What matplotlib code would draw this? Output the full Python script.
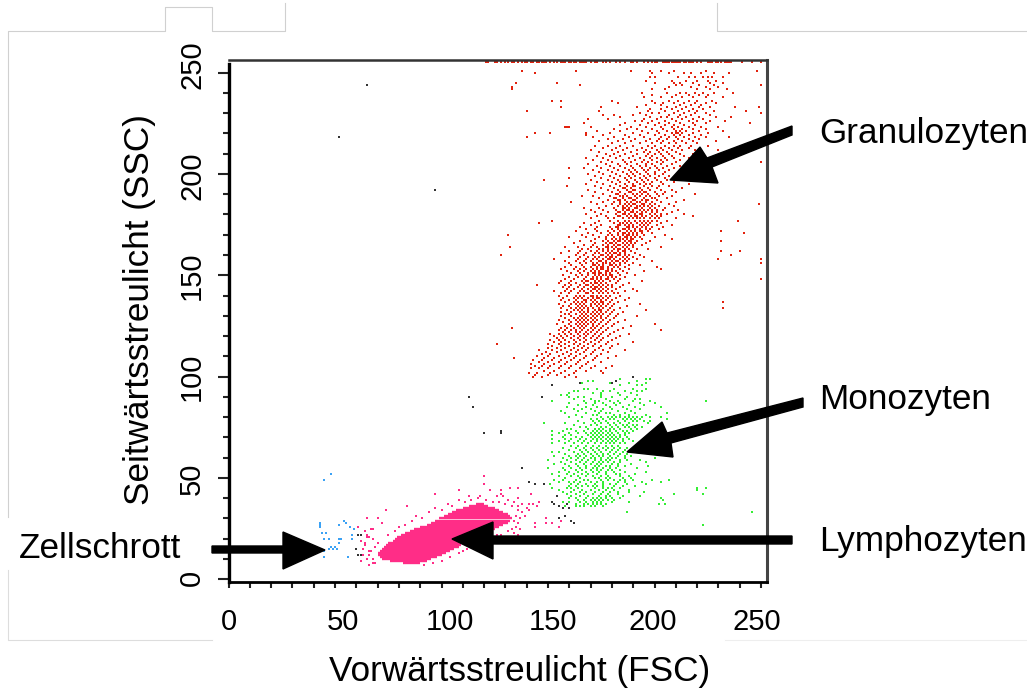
#!/usr/bin/env python3
"""Flow cytometry dot plot, FSC against SSC, with the four labelled cell populations."""

import matplotlib
matplotlib.use("Agg")
import matplotlib.pyplot as plt
from matplotlib.lines import Line2D
from matplotlib.patches import Polygon

W, H = 1027, 689

# Granulozyten: y channel -> x channels
red_rows = {
    255: [121,122,125,126,128,130,131,133,134,136,138,139,140,142,143,145,146,147,148,149,151,153,154,156,157,158,160,161,162,163,165,166,167,168,170,172,173,176,177,179,182,184,186,189,190,192,195,197,199,200,201,204,205,206,207,208,209,210,211,212,214,215,216,217,218,220,222,225,226,227,229,230,231,233,234,235,236,241,246,250],
    251: [138,163,189,198,203,209,224,248],
    250: [144,199,207,214,217,222,228,235],
    248: [198,200,211,216,219,223,225,227,232],
    246: [196,208,215,220,225,229],
    245: [135,154,200,209,212,218,226,232],
    244: [165,210,213,221,228,250],
    243: [133,207,217,224,230],
    242: [133,199,205,220,226,234],
    240: [194,206,212,215,219,223,228,237],
    239: [199,210,216,221,225],
    238: [195,203,208,213,218,224,232],
    236: [152,156,180,199,207,211,216,220,227],
    235: [183,200,204,209,214,219,224,229],
    234: [196,203,212,217,222],
    233: [156,175,192,206,210,215,221,226,238,249],
    232: [198,203,208,213,218,223],
    231: [140,174,197,205,211,216,220,228,243],
    230: [193,199,202,209,214,219,224,250],
    229: [176,181,190,196,207,212,217,226],
    228: [184,198,203,206,211,215,221,229,236],
    227: [169,178,195,201,208,213,218,223],
    226: [191,194,199,205,210,216,220,226,233],
    225: [167,186,197,202,207,212,218,224,245],
    224: [184,193,200,205,209,214,219],
    223: [158,159,160,170,189,196,203,208,211,216,222,230],
    222: [181,187,192,199,204,209,213,218,224],
    221: [173,184,194,201,206,210,212,215,221,232],
    220: [144,151,168,179,190,197,202,208,210,211,213,218,225],
    219: [168,176,186,193,200,205,209,212,216,222],
    218: [140,171,181,188,195,203,207,210,214,219,224,235],
    217: [178,185,191,198,202,206,211,216,221],
    216: [174,183,189,196,201,204,209,213,218,229],
    215: [180,186,193,199,203,207,210,215,220],
    214: [172,178,184,190,197,200,205,209,212,217,225],
    213: [176,182,187,194,199,203,207,211,216],
    212: [170,180,185,192,196,201,204,208,213,219,230],
    211: [174,183,189,195,198,202,206,210,222],
    210: [177,181,186,192,197,200,203,207,212,218],
    209: [173,179,184,190,196,199,204,208,214],
    208: [168,176,182,188,193,198,201,205,209,216,227],
    207: [171,178,185,191,195,199,203,206,212],
    206: [175,180,186,189,194,197,201,204,210,250],
    205: [169,177,183,187,192,196,199,203,208,216],
    204: [173,179,184,189,193,196,200,206,212],
    203: [160,167,175,181,186,190,194,198,201,204,209],
    202: [171,178,183,188,191,195,197,202,207,220],
    201: [174,180,185,189,192,196,200,205,214],
    200: [169,176,182,187,190,193,197,200,204,211],
    199: [172,179,184,188,191,195,198,202,207,222],
    198: [160,175,181,186,189,193,196,200,205,218],
    197: [148,170,178,183,187,191,194,197,201,206,212],
    196: [173,180,184,188,192,195,199,203,209],
    195: [168,176,182,186,190,193,196,198,204,216],
    194: [159,172,179,184,187,190,191,195,199,202,207],
    193: [175,181,185,186,189,193,197,201,213],
    192: [169,178,183,187,190,191,194,198,203,208],
    191: [172,180,184,188,189,193,195,196,200,205,210],
    190: [176,182,183,186,190,192,194,197,201,204,219],
    189: [166,171,179,184,185,187,191,193,196,198,202,208],
    188: [174,181,182,185,188,189,192,195,199,200,206],
    187: [178,183,184,186,190,191,194,196,197,201,214],
    186: [161,170,176,181,184,187,189,192,193,196,199,203,210],
    185: [173,180,184,186,188,190,191,194,195,198,200,207,249],
    184: [177,183,185,187,189,192,193,195,197,199,202,209],
    183: [167,174,181,185,186,188,191,192,194,198,200,205],
    182: [170,176,182,185,187,188,190,193,195,197,199,201,204,211],
    181: [172,178,183,184,186,189,190,192,194,196,199,201,208],
    180: [168,175,182,185,186,188,191,193,194,198,200,203,206,214],
    179: [173,177,183,184,187,189,191,192,194,196,199,201,203,218],
    178: [170,178,181,185,188,190,192,193,195,198,200,202,210],
    177: [152,174,179,183,186,188,191,193,195,197,199,201,206,239],
    176: [146,167,172,181,184,185,187,189,192,194,196,198,203],
    175: [170,175,183,184,186,188,190,193,195,197,201,208],
    174: [165,173,179,182,183,187,188,190,192,194,196,199,204],
    173: [168,172,180,183,185,186,188,191,193,196,198,202],
    172: [163,173,178,181,184,187,189,191,193,194,197,231],
    171: [169,175,179,183,185,186,188,190,192,194,199,242],
    170: [131,166,171,178,180,183,185,187,188,190,192,195,205],
    169: [160,168,174,177,181,184,186,187,189,191,193,200],
    168: [172,177,180,182,184,185,187,189,190,194,208],
    167: [165,170,176,178,181,183,184,186,188,189,192,198,231],
    166: [162,172,177,179,180,182,185,187,189,191,196],
    165: [167,171,176,178,181,183,184,186,188,190,194],
    164: [132,158,164,170,173,177,178,180,182,185,187,190,203],
    163: [166,169,174,176,178,181,183,184,186,188,192,197],
    162: [160,165,170,173,176,178,180,183,185,186,189,231,240],
    161: [156,164,168,172,174,177,179,181,182,184,186,191],
    160: [128,163,167,171,175,176,178,180,183,184,186,188,193,236],
    159: [160,165,169,172,174,177,179,180,182,185,187,190,195],
    158: [153,164,168,171,173,176,178,179,181,184,186,188,192,230,250],
    157: [158,163,167,170,174,175,177,180,182,183,185,187,199],
    156: [160,165,168,171,173,176,177,179,181,184,186,190,250],
    155: [161,166,171,172,174,176,179,180,182,184,188,193],
    154: [158,163,167,170,173,175,176,178,181,183,186,201],
    153: [156,162,165,168,171,173,175,176,178,180,184,188,203],
    152: [159,164,167,170,172,174,177,178,180,182,185,195],
    151: [161,165,169,171,172,174,175,177,179,183,187],
    150: [157,163,166,169,172,174,176,177,179,180,184,191],
    149: [160,164,168,171,173,175,178,180,182,186],
    148: [158,162,167,170,171,173,175,177,178,181,184,250],
    147: [156,161,166,168,169,172,174,176,179,183,194],
    146: [155,160,163,167,170,172,173,175,177,182,188],
    145: [145,158,161,165,168,169,171,174,176,178,180,185],
    144: [157,160,164,167,170,172,173,175,177,180,184],
    143: [159,162,166,169,171,172,174,176,178,182,190],
    142: [153,158,161,165,167,170,173,175,177,180,186,192],
    141: [156,160,164,168,169,171,174,176,178,181,183],
    140: [155,159,163,165,167,170,171,173,175,177,179,184],
    139: [157,162,164,166,169,171,173,174,176,178,182,188],
    138: [156,160,163,167,168,170,172,175,177,180,186],
    137: [158,162,164,166,168,171,173,175,176,179,183,232],
    136: [155,161,163,165,167,170,172,174,176,178,181,193],
    135: [157,160,164,166,168,170,173,175,177,180,187],
    134: [156,161,163,165,167,169,171,174,176,179,184,232],
    133: [159,162,164,166,169,172,174,175,178,181,196],
    132: [156,161,165,167,169,171,173,175,177,180,185],
    131: [158,160,163,166,168,170,172,174,176,179,183],
    130: [156,161,165,167,169,171,173,175,178,182,192],
    129: [158,162,164,166,168,170,172,175,177,181],
    128: [155,160,163,165,167,169,171,173,176,179,186],
    127: [157,161,164,166,168,170,172,175,178,183],
    126: [154,160,163,165,167,169,171,174,177,181,200],
    125: [158,161,164,166,168,171,173,176,180,189],
    124: [133,156,159,162,165,167,170,172,175,178,185],
    123: [155,158,161,163,166,169,171,174,177,183,203],
    122: [157,160,163,165,168,170,173,176,181],
    121: [151,155,158,161,164,167,169,172,175,179,188],
    120: [153,156,159,162,165,168,171,174,178,184],
    119: [154,157,161,164,167,170,173,176,182],
    118: [151,155,158,162,165,168,172,175,180],
    117: [153,156,160,163,167,170,174,178,190],
    116: [126,150,155,158,162,165,169,172,177,183],
    115: [152,156,160,164,167,171,175,180],
    114: [150,154,158,162,166,169,174,179],
    113: [146,152,156,161,164,168,172,176,186],
    112: [149,154,159,163,167,171,178],
    111: [147,151,157,161,165,170,175],
    110: [145,150,155,160,163,168,173,182],
    109: [134,148,153,158,162,167,172,178],
    108: [143,147,152,156,161,165,171],
    107: [146,150,155,159,164,169,175],
    106: [142,148,153,158,163,168],
    105: [144,147,151,156,161,166,172,180],
    104: [142,146,150,155,160,165,170,177],
    103: [148,153,158,163,168,175],
    102: [141,145,151,156,162,176],
    101: [144,150,154,160],
    100: [143,147,158,163],
}

# Monozyten
green_rows = {
    99: [184,196,198],
    98: [169,171,182,192],
    97: [166,179,188,196],
    96: [184,192,194],
    94: [167,169,173,181,190,196],
    93: [162,164,176,179,186,192,194],
    92: [160,171,175,183,189],
    91: [156,159,175,184,192],
    90: [160,164,167,175,180,187],
    89: [162,170,177,186,191,193],
    88: [152,167,172,174,179,183,190,198,224],
    87: [160,168,172,176,181,184,193,200],
    86: [164,171,177,182,188,195],
    85: [159,168,173,179,185,191,203],
    84: [162,166,170,176,180,187,193],
    83: [156,164,172,175,183,189],
    82: [158,168,174,177,179,186,191,206],
    81: [163,171,173,181,184,188,196],
    80: [160,166,175,178,180,182,184,186,188,190,192,194,198,203],
    79: [170,173,176,179,181,185,187,189,191,193,206],
    78: [164,171,174,177,183,186,190,192,195,198],
    77: [148,158,167,172,175,178,181,184,188,197],
    76: [162,170,173,179,182,185,187,190,192],
    75: [165,168,175,177,180,183,186,188,191,194],
    74: [159,161,169,172,174,176,179,181,184,189,192],
    73: [152,157,163,167,171,173,175,177,179,182,185,187,190],
    72: [155,160,164,168,170,172,174,176,178,180,183,186,188],
    71: [152,158,161,169,171,173,175,177,179,181,184,186],
    70: [157,163,166,170,172,174,176,178,180,182,184,187],
    69: [152,158,161,165,168,171,173,175,177,179,181,183,185,188],
    68: [155,160,164,167,170,173,176,178,180,182,185,190],
    67: [152,158,162,166,169,172,175,177,179,181,184,186],
    66: [161,164,168,171,174,177,180,183,192],
    65: [157,163,167,170,173,176,178,181,184,187,196],
    64: [160,165,168,171,174,177,180,183,186,190],
    63: [152,155,162,166,169,172,175,179,182,185,188],
    62: [158,164,167,170,173,176,178,181,184,187,198],
    61: [153,160,163,165,168,171,174,176,179,183,186,189],
    60: [157,161,164,167,170,172,175,178,180,182,186,200],
    59: [150,159,163,166,169,172,175,177,179,184,187,193],
    58: [156,161,165,168,171,174,176,178,181,184,196],
    57: [153,158,163,167,170,173,175,180,183,189],
    56: [160,164,168,172,174,177,179,183,186,197],
    55: [150,157,161,165,168,171,173,176,179,182,192],
    54: [158,163,166,170,173,175,178,180,184],
    53: [155,160,164,168,171,174,177,181,186,196],
    52: [152,159,162,166,169,173,177,182,184,191],
    51: [155,161,164,168,171,175,178,184,188],
    50: [158,165,172,174,177,179,185,189],
    49: [153,157,163,167,169,175,178,181,184,186,190,199,207],
    48: [155,160,162,165,170,173,176,183,186,194,203],
    47: [151,161,164,168,172,176,179,182,187,196],
    46: [160,163,166,169,171,173,176,181,185,191],
    45: [152,159,161,164,172,176,178,180,184,220,224],
    44: [155,162,166,170,174,177,181,188,220],
    43: [157,161,165,168,172,176,179,183,188,195],
    42: [159,163,167,171,175,178,183,209,223],
    41: [161,165,169,174,177,179,185,193],
    40: [160,163,168,171,173,175,177,180,184,203],
    39: [164,167,170,172,174,176,178,181,204],
    38: [157,160,165,168,171,173,175,180,188],
    37: [163,167,169,171,173,175,177,202,205],
    36: [158,163,165,167,170,172,176],
    33: [187,246],
    27: [223],
}

# Lymphozyten: dense band as (y, first x, last x), sparse dots beside it
pink_runs = [
    (8,82,90),(9,76,93),(10,72,95),(11,71,98),(12,70,100),(13,70,102),(14,71,104),(15,72,106),
    (16,73,108),(17,74,109),(18,75,111),(19,77,112),(20,78,114),(21,79,116),(22,81,118),
    (23,83,120),(24,85,123),(25,87,125),(26,90,127),(27,93,129),(28,95,131),(29,97,132),
    (30,99,133),(31,101,132),(32,103,131),(33,105,129),(34,107,127),(35,110,125),(36,113,122),
    (37,116,120),
]
pink_dots = [
    (61,26),(62,19),(64,24),(65,22),(66,21),(67,25),(63,15),(64,17),(66,12),(67,14),(68,20),(69,16),
    (70,18),(62,9),(65,10),(68,10),(63,12),(66,14),(64,18),(69,8),(66,7),(68,8),(65,30),(70,30),
    (72,28),(68,25),(65,21),(74,34),(84,36),(97,42),(108,44),(120,51),(120,47),(113,41),
    (75,22),(78,24),(80,26),(83,27),(86,29),(88,31),(91,30),(94,33),(97,35),(100,34),(103,37),(105,36),
    (108,39),(111,38),(114,39),(117,40),(121,39),(124,38),(127,38),(130,37),(133,36),(136,34),
    (123,44),(128,42),(118,41),(126,41),(131,39),(134,38),(136,36),(138,33),(135,31),(137,30),(134,29),
    (136,28),(139,31),(135,26),(137,25),(133,25),(131,24),(134,23),(136,22),(128,22),(130,21),(126,22),
    (127,20),(124,19),(120,18),(116,16),(112,15),(108,13),(104,11),(100,9),(96,8),(92,7),(110,14),(118,18),
    (141,37),(141,34),(142,42),(144,26),(146,38),(145,36),(149,30),(149,28),(152,28),(156,29),(155,26),
    (144,28),(140,35),(143,37),(136,40),(129,41),(136,45),(132,45),(128,44),(138,37),(139,31),
]

# Zellschrott
blue_x = [48,45,43,43,43,44,45,47,52,54,55,57,59,52,52,58,58,48,51,47,45,45,56,46,49,53,50]
blue_y = [52,49,28,27,26,23,20,20,27,29,28,26,25,20,18,20,22,16,15,15,14,11,11,23,15,20,16]

# Events outside the gates
black_x = [65,52,97,113,115,120,128,138,141,144,148,152,153,154,155,157,159,160,158,155,161,162,190,182,180,165,152,147,128,61,62,60,61,62]
black_y = [244,218,192,90,85,72,72,55,48,47,47,38,37,41,36,35,37,35,31,30,29,28,100,98,97,97,96,90,73,22,22,15,12,12]

x_major = [0, 50, 100, 150, 200, 250]
y_major = [0, 50, 100, 150, 200, 250]
x_tick_labels = ["0", "50", "100", "150", "200", "250"]
y_tick_labels = ["0", "50", "100", "150", "200", "250"]
x_label_px = [229, 343, 450, 553, 653, 757]
y_label_py = [578, 479, 377, 276, 176, 65]
minor_step = 10


def unpack(rows):
    xs, ys = [], []
    for y, row in rows.items():
        xs += row
        ys += [y] * len(row)
    return xs, ys


plt.rcParams["font.family"] = ["Liberation Sans", "DejaVu Sans"]
fig = plt.figure(figsize=(W / 100, H / 100), dpi=100)
fig.patch.set_facecolor("white")


def fx(px):
    return px / W


def fy(py):
    return 1 - py / H


# axes box sits on the pixel frame of the plot, 2.13 px per x channel, 2.027 px per y channel
left, right, top, bottom = 228.5, 766.5, 60.0, 581.8
ax = fig.add_axes([fx(left), fy(bottom), (right - left) / W, (bottom - top) / H])
ax.set_xlim(0, (right - left) / 2.13)
ax.set_ylim((579.3 - bottom) / 2.027, (579.3 - top) / 2.027)

ax.spines["top"].set_color("#333333")
ax.spines["right"].set_color("#444444")
ax.spines["top"].set_linewidth(1.8)
ax.spines["right"].set_linewidth(2.2)
ax.spines["left"].set_linewidth(2.4)
ax.spines["bottom"].set_linewidth(2.0)
ax.spines["left"].set_bounds(ax.get_ylim()[0], 254)

ax.set_xticks(range(0, 251, minor_step))
ax.set_yticks(range(0, 251, minor_step))
ax.tick_params(labelbottom=False, labelleft=False, length=4.5, width=1.5, color="#222222")
for t, val in zip(ax.yaxis.get_major_ticks(), range(0, 251, minor_step)):
    t.tick1line.set_markersize(8 if val in y_major else 4)

dot = dict(marker="s", s=4.4, linewidths=0, zorder=2)
ax.scatter(*unpack(red_rows), color="#e2220e", **dot)
ax.scatter(*unpack(green_rows), color="#35ee35", **dot)
ax.hlines([r[0] for r in pink_runs], [r[1] for r in pink_runs], [r[2] for r in pink_runs],
          color="#ff2d87", linewidth=1.7, zorder=2)
ax.scatter(*zip(*pink_dots), color="#ff2d87", **dot)
ax.scatter(blue_x, blue_y, color="#3ba2f5", **dot)
ax.scatter(black_x, black_y, color="#333333", **dot)

# labels were placed by hand in the original, they do not sit on the ticks
label_font = 21
for px, txt in zip(x_label_px, x_tick_labels):
    fig.text(fx(px), fy(622), txt, fontsize=label_font, ha="center", va="center")
for py, txt in zip(y_label_py, y_tick_labels):
    fig.text(fx(192), fy(py), txt, fontsize=label_font, ha="center", va="center", rotation=90)

fig.text(fx(520), fy(671), "Vorwärtsstreulicht (FSC)", fontsize=25.3, ha="center", va="center")
fig.text(fx(139), fy(310), "Seitwärtsstreulicht (SSC)", fontsize=25.3, ha="center", va="center", rotation=90)

for txt, px, py in [("Granulozyten", 819, 134), ("Monozyten", 819, 399),
                    ("Lymphozyten", 819, 541), ("Zellschrott", 19, 548)]:
    fig.text(fx(px), fy(py), txt, fontsize=25.3, ha="left", va="center")

# hand drawn arrows, pixel outlines
arrows = [
    [(670,180),(700,147),(707,158),(792,126),(792,135),(712,167),(718,183)],
    [(627,452),(662,422),(667,433),(803,398),(803,407),(671,443),(673,457)],
    [(452,539),(493,522),(493,536),(792,536),(792,544),(493,544),(493,559)],
    [(325,550),(283,532),(283,546),(212,546),(212,553),(283,553),(283,569)],
]
for pts in arrows:
    fig.add_artist(Polygon([(fx(a), fy(b)) for a, b in pts], closed=True, color="black",
                           transform=fig.transFigure, zorder=5))

# faint crop edges left in the screenshot
crop_edges = [
    ([8,8,165,165,212,212,285,285], [517,31,31,7,7,31,31,3], "#d0d0d0"),
    ([717,717,1027], [3,31,31], "#d0d0d0"),
    ([8,8,212], [570,640,640], "#dddddd"),
    ([725,1027], [640,640], "#eeeeee"),
]
for xs, ys, col in crop_edges:
    fig.add_artist(Line2D([fx(a) for a in xs], [fy(b) for b in ys], color=col, linewidth=0.8))

fig.savefig("out.png", dpi=100)
